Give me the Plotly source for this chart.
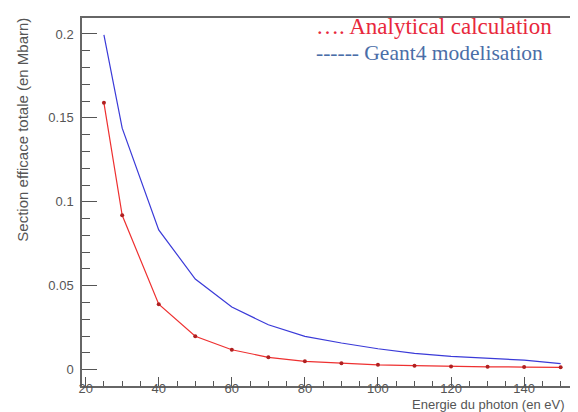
import plotly.graph_objects as go

energy = [25, 30, 40, 50, 60, 70, 80, 90, 100, 110, 120, 130, 140, 150]
analytical = [0.159, 0.092, 0.039, 0.0199, 0.0119, 0.0074, 0.0050, 0.0038, 0.0029, 0.0024, 0.0019, 0.0017, 0.0016, 0.0014]
geant4 = [0.1994, 0.1439, 0.0833, 0.054, 0.0373, 0.0268, 0.0199, 0.0159, 0.0125, 0.0097, 0.0080, 0.0069, 0.0057, 0.0036]

x_ticks = [20, 40, 60, 80, 100, 120, 140]
y_ticks = [0, 0.05, 0.1, 0.15, 0.2]
y_tick_text = ["0", "0.05", "0.1", "0.15", "0.2"]

fig = go.Figure()
fig.add_trace(go.Scatter(x=energy, y=geant4, mode="lines",
                         line=dict(color="#3a3ad8", width=1.2), showlegend=False))
fig.add_trace(go.Scatter(x=energy, y=analytical, mode="lines+markers",
                         line=dict(color="#ee3030", width=1.2),
                         marker=dict(symbol="circle", size=4, color="#b02020"),
                         showlegend=False))

axis_common = dict(showline=True, mirror=True, linecolor="#666666", linewidth=1.5,
                   ticks="inside", tickcolor="#555555", showgrid=False, zeroline=False,
                   tickfont=dict(family="Liberation Sans, Arial", size=13, color="#555555"))

fig.update_xaxes(range=[19, 154.2], tickvals=x_ticks, ticklen=9, tickwidth=1,
                 ticklabelstandoff=-10,
                 minor=dict(dtick=5, tick0=0, ticks="inside", ticklen=5, tickcolor="#555555"),
                 **axis_common)
fig.update_yaxes(range=[-0.0097, 0.2095], tickvals=y_ticks, ticktext=y_tick_text,
                 ticklen=15, tickwidth=1, ticklabelstandoff=4,
                 minor=dict(dtick=0.01, tick0=0, ticks="inside", ticklen=8, tickcolor="#555555"),
                 **axis_common)

fig.add_annotation(xref="paper", yref="paper", x=0.980, y=-0.049, xanchor="right", yanchor="middle",
                   text="Energie du photon (en eV)", showarrow=False, borderpad=0,
                   font=dict(family="Liberation Sans, Arial", size=13, color="#555555"))
fig.add_annotation(xref="paper", yref="paper", x=-0.121, y=1.007, xanchor="center", yanchor="top",
                   text="Section efficace totale (en Mbarn)", textangle=-90, showarrow=False,
                   font=dict(family="Liberation Sans, Arial", size=15, color="#555555"))
fig.add_annotation(xref="paper", yref="paper", x=0.469, y=0.978, xanchor="left", yanchor="middle",
                   text="…. Analytical calculation", showarrow=False,
                   font=dict(family="Liberation Serif, Times New Roman", size=23, color="#e8283c"))
fig.add_annotation(xref="paper", yref="paper", x=0.469, y=0.905, xanchor="left", yanchor="middle",
                   text="------ Geant4 modelisation", showarrow=False,
                   font=dict(family="Liberation Serif, Times New Roman", size=21.5, color="#4a6ea8"))

fig.update_layout(width=578, height=412, margin=dict(l=74, r=8, t=10, b=34),
                  plot_bgcolor="white", paper_bgcolor="white")
fig.write_html("out.html")
